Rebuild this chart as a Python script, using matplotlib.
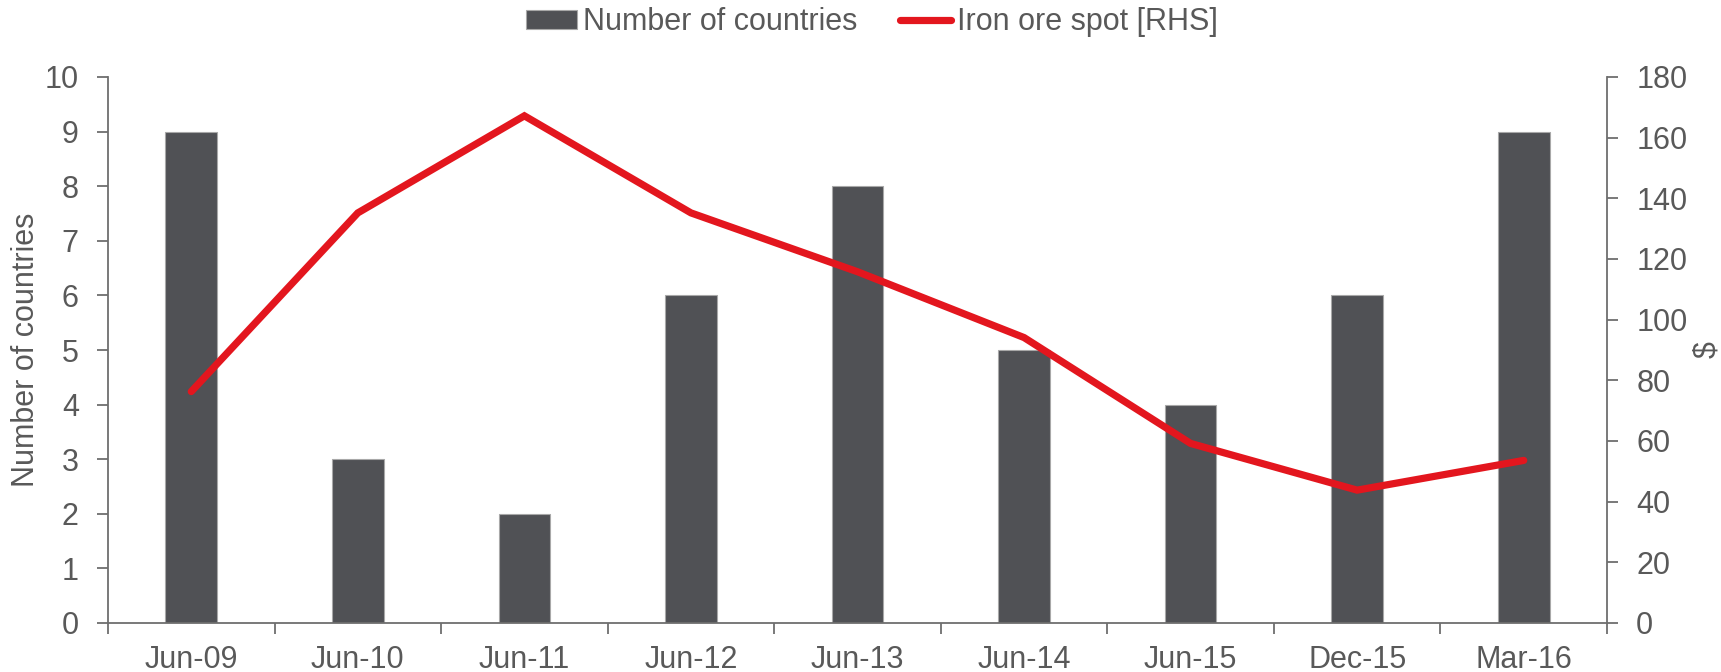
import matplotlib
matplotlib.use("Agg")
import matplotlib.pyplot as plt
import numpy as np

categories = ["Jun-09", "Jun-10", "Jun-11", "Jun-12", "Jun-13", "Jun-14", "Jun-15", "Dec-15", "Mar-16"]
num_countries = [9, 3, 2, 6, 8, 5, 4, 6, 9]
iron_ore = [76.3, 135.2, 167.2, 135.2, 115.8, 94.1, 59.2, 43.8, 53.6]

plt.rcParams['font.family'] = ['Liberation Sans', 'DejaVu Sans']
TXT = "#595959"
AX = "#6e6e6e"
FS = 22

fig = plt.figure(figsize=(17.21, 6.72), dpi=100)
ax = fig.add_axes([108/1721, 1-623/672, (1607-108)/1721, (623-77)/672])
ax2 = ax.twinx()

x = np.arange(len(categories))
bars = ax.bar(x, num_countries, width=0.31, color="#505155", edgecolor="#a8a8a8",
              linewidth=0.8, label="Number of countries", zorder=2)
line, = ax2.plot(x, iron_ore, color="#E3161E", linewidth=5.2, solid_capstyle="round",
                 solid_joinstyle="miter", label="Iron ore spot [RHS]", zorder=3)

ax.set_xlim(-0.5, len(categories) - 0.5)
ax.set_ylim(0, 10)
ax2.set_ylim(0, 180)
ax.set_yticks(range(0, 11))
ax2.set_yticks(range(0, 181, 20))

ax.set_xticks(x)
ax.set_xticklabels(categories)
ax.set_xticks(np.arange(-0.5, len(categories), 1.0), minor=True)
ax.tick_params(axis='x', which='major', length=0, pad=16, labelsize=FS, labelcolor=TXT)
ax.tick_params(axis='x', which='minor', length=8, width=1.3, color=AX, direction='out')
ax.tick_params(axis='y', length=8, width=1.3, color=AX, labelsize=FS, labelcolor=TXT, pad=13)
ax2.tick_params(axis='y', length=8, width=1.3, color=AX, labelsize=FS, labelcolor=TXT, pad=13)

for a in (ax, ax2):
    a.spines['top'].set_visible(False)
    for s in ('left', 'right', 'bottom'):
        a.spines[s].set_color(AX)
        a.spines[s].set_linewidth(1.3)
ax.spines['right'].set_visible(False)
ax2.spines['left'].set_visible(False)
ax2.spines['bottom'].set_visible(False)

ax.set_ylabel("Number of countries", fontsize=FS, color=TXT)
ax2.set_ylabel("$", fontsize=FS, color=TXT)
ax.yaxis.set_label_coords((41 - 108) / 1499, 0.5)
ax2.yaxis.set_label_coords((1692 - 108) / 1499, 0.5)

ax.set_zorder(ax2.get_zorder() - 1)
ax.patch.set_visible(True)
ax2.patch.set_visible(False)

fig.legend(handles=[bars, line], labels=["Number of countries", "Iron ore spot [RHS]"],
           loc='center', bbox_to_anchor=(872/1721, 1-22/672), ncol=2, frameon=False,
           fontsize=FS, labelcolor=TXT, handlelength=1.65, handletextpad=0.2,
           columnspacing=1.4, handleheight=0.6)

fig.savefig("out.png", dpi=100)
